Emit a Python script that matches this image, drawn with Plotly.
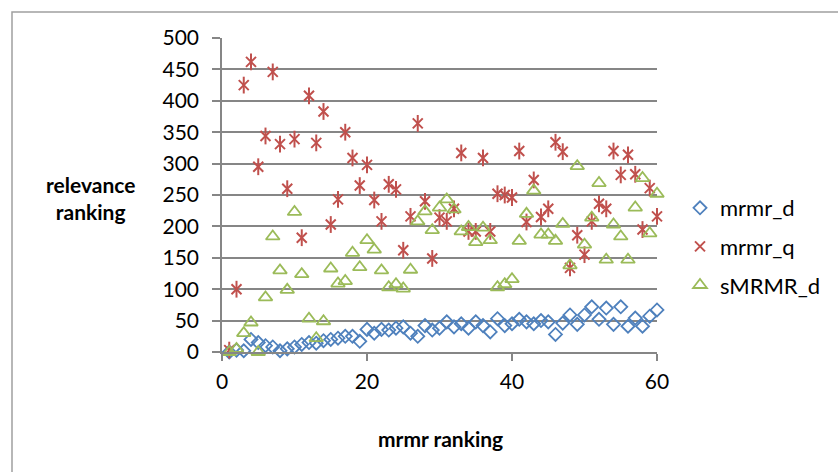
import plotly.graph_objects as go

x_rank = list(range(1, 61))

mrmr_d = [0, 3, 2, 20, 15, 10, 8, 2, 5, 8,
          12, 15, 14, 18, 20, 22, 25, 25, 17, 36,
          30, 36, 35, 38, 40, 30, 25, 42, 35, 38,
          48, 40, 45, 38, 48, 42, 32, 53, 42, 45,
          52, 48, 45, 50, 48, 28, 46, 59, 44, 59,
          72, 52, 70, 44, 72, 41, 54, 41, 57, 67]

mrmr_q = [3, 100, 425, 462, 295, 344, 446, 331, 260, 339,
          182, 408, 333, 383, 203, 243, 350, 309, 265, 298,
          242, 208, 267, 259, 162, 216, 364, 240, 149, 214,
          208, 228, 317, 192, 192, 309, 192, 252, 250, 246,
          320, 207, 274, 215, 228, 334, 319, 134, 186, 155,
          208, 236, 228, 320, 282, 314, 283, 195, 261, 216]

smrmr_d = [0, 5, 30, 47, 0, 87, 184, 130, 99, 223,
           124, 53, 22, 49, 133, 109, 113, 158, 135, 178,
           163, 130, 103, 108, 101, 131, 208, 224, 194, 230,
           243, 227, 192, 199, 175, 198, 178, 103, 108, 116,
           177, 220, 257, 187, 187, 177, 204, 138, 296, 171,
           214, 269, 147, 203, 184, 147, 230, 277, 189, 252]

x_ticks = [0, 20, 40, 60]
y_ticks = [0, 50, 100, 150, 200, 250, 300, 350, 400, 450, 500]

BLUE = "#4F81BD"
RED = "#C0504D"
GREEN = "#9BBB59"
GRID = "#868686"
FONT = "Lato"

fig = go.Figure()
fig.add_trace(go.Scatter(
    x=x_rank, y=mrmr_d, mode="markers", name="mrmr_d", legendgroup="a", cliponaxis=False,
    marker=dict(symbol="diamond-open", size=10, color=BLUE, line=dict(width=1.8, color=BLUE)),
))
fig.add_trace(go.Scatter(
    x=x_rank, y=mrmr_q, mode="markers", name="mrmr_q", legendgroup="b", cliponaxis=False,
    marker=dict(symbol="x-thin-open", size=10, color=RED, line=dict(width=2, color=RED)),
))
fig.add_trace(go.Scatter(
    x=x_rank, y=mrmr_q, mode="markers", name="mrmr_q", legendgroup="b", showlegend=False,
    cliponaxis=False,
    marker=dict(symbol="line-ns-open", size=12, color=RED, line=dict(width=2, color=RED)),
))
fig.add_trace(go.Scatter(
    x=x_rank, y=smrmr_d, mode="markers", name="sMRMR_d", legendgroup="c", cliponaxis=False,
    marker=dict(symbol="triangle-up-open", size=12, color=GREEN, line=dict(width=1.8, color=GREEN)),
))

W, H = 838, 472
L, R, T, B = 222, 181, 38, 120
pw, ph = W - L - R, H - T - B

def px_x(p):
    return (p - L) / pw

def px_y(p):
    return (H - B - p) / ph

fig.update_layout(
    width=W, height=H,
    margin=dict(l=L, r=R, t=T, b=B, pad=0),
    paper_bgcolor="white", plot_bgcolor="white",
    font=dict(family=FONT, size=21, color="#000000"),
    showlegend=True,
    legend=dict(
        x=px_x(680), y=px_y(187), xanchor="left", yanchor="top",
        traceorder="grouped", tracegroupgap=7,
        font=dict(family=FONT, size=22, color="#000000"),
        bgcolor="rgba(0,0,0,0)", itemwidth=30,
    ),
    xaxis=dict(
        range=[0, 60], tickvals=x_ticks, ticktext=[str(v) for v in x_ticks],
        showgrid=False, zeroline=False,
        showline=True, linecolor=GRID, linewidth=1.5,
        ticks="outside", ticklen=7, tickwidth=1.5, tickcolor=GRID,
        ticklabelstandoff=3,
        tickfont=dict(family=FONT, size=21),
    ),
    yaxis=dict(
        range=[0, 500], tickvals=y_ticks, ticktext=[str(v) for v in y_ticks],
        showgrid=True, gridcolor=GRID, gridwidth=1.5, zeroline=False,
        showline=True, linecolor=GRID, linewidth=1.5,
        ticks="outside", ticklen=8, tickwidth=1.5, tickcolor=GRID,
        ticklabelstandoff=9,
        tickfont=dict(family=FONT, size=21),
    ),
    shapes=[dict(
        type="rect", xref="paper", yref="paper",
        x0=px_x(12), y0=px_y(600), x1=px_x(1000), y1=px_y(12),
        line=dict(color="#A0A0A0", width=1.5), fillcolor="rgba(0,0,0,0)", layer="below",
    )],
    annotations=[
        dict(text="<b>relevance<br>ranking</b>", xref="paper", yref="paper",
             x=px_x(90), y=px_y(198), xanchor="center", yanchor="middle",
             showarrow=False, font=dict(family=FONT, size=21), align="center"),
        dict(text="<b>mrmr ranking</b>", xref="paper", yref="paper",
             x=px_x(440), y=px_y(438), xanchor="center", yanchor="middle",
             showarrow=False, font=dict(family=FONT, size=21)),
    ],
)

fig.write_html("out.html")
